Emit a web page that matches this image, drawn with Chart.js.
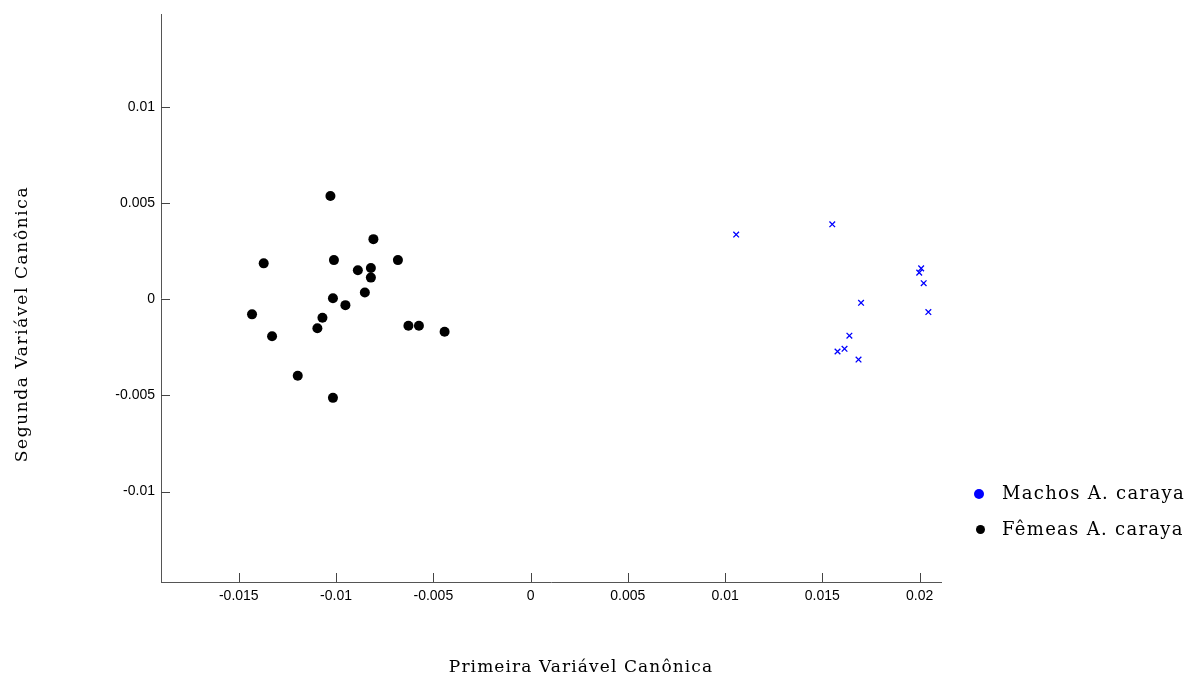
<!DOCTYPE html>
<html>
<head>
<meta charset="utf-8">
<script src="https://cdn.jsdelivr.net/npm/chart.js@4"></script>
<style>
  html, body { margin: 0; padding: 0; background: #fff; }
  #wrap { position: relative; width: 1199px; height: 684px; }
  .legend { position: absolute; left: 0; top: 0; font-family: "DejaVu Serif", serif; font-size: 18px; color: #000; letter-spacing: 1.3px; }
  .legend .txt { position: absolute; left: 1002px; white-space: nowrap; height: 24px; line-height: 24px; }
  .legend .dot { position: absolute; border-radius: 50%; }
</style>
</head>
<body>
<div id="wrap">
  <canvas id="chart"></canvas>
  <div class="legend">
    <span class="dot" style="left:974px; top:489px; width:10px; height:10px; background:#0000ff;"></span>
    <div class="txt" style="top:481px;">Machos A. caraya</div>
    <span class="dot" style="left:975.5px; top:524.5px; width:9px; height:9px; background:#000;"></span>
    <div class="txt" style="top:517px;">Fêmeas A. caraya</div>
  </div>
</div>
<script>
const X_TITLE = "Primeira Variável Canônica";
const Y_TITLE = "Segunda Variável Canônica";
const TICK_STEP = 0.005;

// Machos A. caraya (blue crosses)
const machosX = [0.01057, 0.01551, 0.02008, 0.01998, 0.02021, 0.01699, 0.02045, 0.01639, 0.01614, 0.01578, 0.01686];
const machosY = [0.00336, 0.00389, 0.00160, 0.00138, 0.00083, -0.00019, -0.00067, -0.00190, -0.00258, -0.00272, -0.00314];

// Femeas A. caraya (black dots)
const femeasX = [-0.01029, -0.00808, -0.01372, -0.01011, -0.00682, -0.00888, -0.00821, -0.00821, -0.00852, -0.01016,
  -0.00952, -0.01432, -0.01070, -0.01096, -0.01329, -0.00628, -0.00574, -0.00442, -0.01197, -0.01016];
const femeasY = [0.00536, 0.00312, 0.00186, 0.00203, 0.00203, 0.00150, 0.00162, 0.00112, 0.00035, 0.00005,
  -0.00031, -0.00079, -0.00097, -0.00151, -0.00193, -0.00138, -0.00138, -0.00169, -0.00398, -0.00513];

function toPoints(xs, ys) {
  return xs.map((x, i) => ({ x, y: ys[i] }));
}

function formatTick(value) {
  return String(Number(value.toFixed(4)));
}

function keepStepTicks(scale) {
  scale.ticks = scale.ticks.filter((t) => {
    const r = t.value / TICK_STEP;
    return Math.abs(r - Math.round(r)) < 1e-6;
  });
}

// inward tick marks and axis titles
const decorPlugin = {
  id: "decor",
  afterDraw(chart) {
    const { ctx, chartArea, scales } = chart;
    ctx.save();
    ctx.strokeStyle = "#444";
    ctx.lineWidth = 1;
    ctx.beginPath();
    scales.x.ticks.forEach((t) => {
      const px = Math.round(scales.x.getPixelForValue(t.value)) + 0.5;
      ctx.moveTo(px, chartArea.bottom);
      ctx.lineTo(px, chartArea.bottom - 9);
    });
    scales.y.ticks.forEach((t) => {
      const py = Math.round(scales.y.getPixelForValue(t.value)) + 0.5;
      ctx.moveTo(chartArea.left, py);
      ctx.lineTo(chartArea.left + 9, py);
    });
    ctx.stroke();

    ctx.fillStyle = "#000";
    ctx.font = '17px "DejaVu Serif", serif';
    ctx.textAlign = "center";
    ctx.textBaseline = "middle";
    ctx.letterSpacing = "1.1px";
    ctx.fillText(X_TITLE, 581, 668);
    ctx.letterSpacing = "1.6px";
    ctx.translate(23, 324);
    ctx.rotate(-Math.PI / 2);
    ctx.fillText(Y_TITLE, 0, 0);
    ctx.restore();
  },
};

function init() {
  const ctx = document.getElementById("chart");
  new Chart(ctx, {
    type: "scatter",
    data: {
      datasets: [
        {
          label: "Machos A. caraya",
          data: toPoints(machosX, machosY),
          pointStyle: "crossRot",
          pointRadius: 4,
          pointHoverRadius: 4,
          borderColor: "#0000ff",
          backgroundColor: "#0000ff",
          borderWidth: 1.3,
        },
        {
          label: "Fêmeas A. caraya",
          data: toPoints(femeasX, femeasY),
          pointStyle: "circle",
          pointRadius: 5,
          pointHoverRadius: 5,
          borderWidth: 0,
          backgroundColor: "#000",
        },
      ],
    },
    options: {
      responsive: true,
      maintainAspectRatio: false,
      animation: false,
      layout: { padding: { left: 0, top: 12, right: 258, bottom: 0 } },
      plugins: {
        legend: { display: false },
        tooltip: { enabled: false },
      },
      scales: {
        x: {
          type: "linear",
          min: -0.019,
          max: 0.0211,
          afterBuildTicks: keepStepTicks,
          afterFit: (scale) => { scale.height = 102; },
          grid: { drawOnChartArea: false, drawTicks: false },
          border: { display: true, color: "#555", width: 1 },
          ticks: {
            stepSize: TICK_STEP,
            includeBounds: false,
            padding: 6,
            color: "#000",
            font: { family: '"Liberation Sans", Arial, sans-serif', size: 14 },
            callback: formatTick,
          },
        },
        y: {
          type: "linear",
          min: -0.0147,
          max: 0.0148,
          afterBuildTicks: keepStepTicks,
          afterFit: (scale) => { scale.width = 161; },
          grid: { drawOnChartArea: false, drawTicks: false },
          border: { display: true, color: "#555", width: 1 },
          ticks: {
            stepSize: TICK_STEP,
            includeBounds: false,
            padding: 6,
            color: "#000",
            font: { family: '"Liberation Sans", Arial, sans-serif', size: 14 },
            callback: formatTick,
          },
        },
      },
    },
    plugins: [decorPlugin],
  });
}

init();
</script>
</body>
</html>
